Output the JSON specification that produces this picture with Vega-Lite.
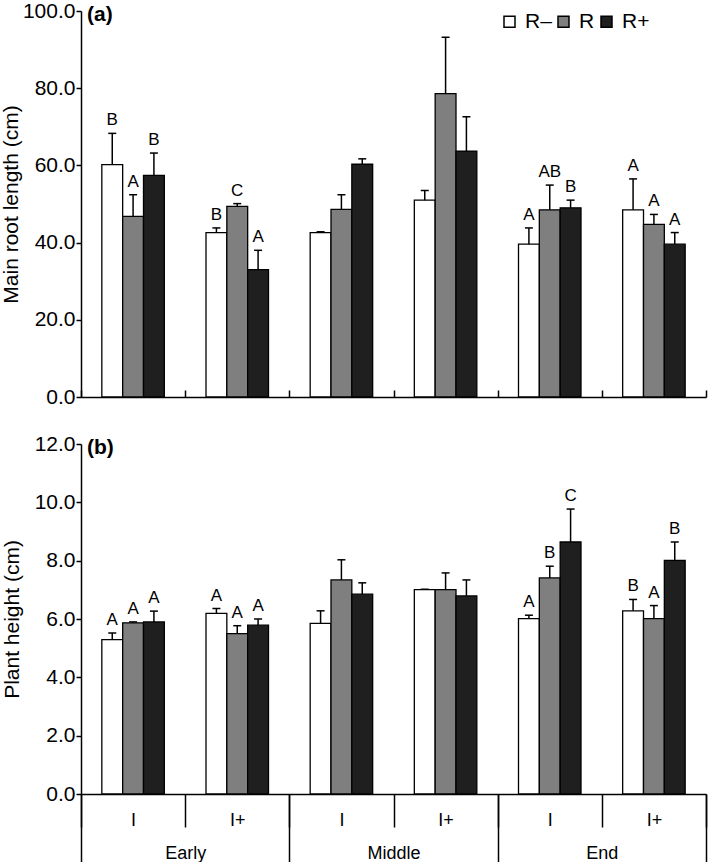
{
  "$schema": "https://vega.github.io/schema/vega-lite/v6.json",
  "background": "white",
  "padding": {"left": 0, "top": 0, "right": 2, "bottom": 0},
  "spacing": 26,
  "datasets": {
    "d": [
      {"stage": "Early", "grp": "Early I", "trt": "R–", "root": 60.2, "rootHi": 68.3, "rootLab": "B", "ht": 5.29, "htHi": 5.52, "htLab": "A"},
      {"stage": "Early", "grp": "Early I", "trt": "R", "root": 46.8, "rootHi": 52.4, "rootLab": "A", "ht": 5.87, "htHi": 5.9, "htLab": "A"},
      {"stage": "Early", "grp": "Early I", "trt": "R+", "root": 57.4, "rootHi": 63.2, "rootLab": "B", "ht": 5.9, "htHi": 6.27, "htLab": "A"},
      {"stage": "Early", "grp": "Early I+", "trt": "R–", "root": 42.6, "rootHi": 43.8, "rootLab": "B", "ht": 6.19, "htHi": 6.36, "htLab": "A"},
      {"stage": "Early", "grp": "Early I+", "trt": "R", "root": 49.4, "rootHi": 50.1, "rootLab": "C", "ht": 5.5, "htHi": 5.77, "htLab": "A"},
      {"stage": "Early", "grp": "Early I+", "trt": "R+", "root": 33.0, "rootHi": 38.0, "rootLab": "A", "ht": 5.79, "htHi": 6.0, "htLab": "A"},
      {"stage": "Middle", "grp": "Middle I", "trt": "R–", "root": 42.6, "rootHi": 42.8, "rootLab": "", "ht": 5.85, "htHi": 6.28, "htLab": ""},
      {"stage": "Middle", "grp": "Middle I", "trt": "R", "root": 48.6, "rootHi": 52.4, "rootLab": "", "ht": 7.34, "htHi": 8.03, "htLab": ""},
      {"stage": "Middle", "grp": "Middle I", "trt": "R+", "root": 60.3, "rootHi": 61.7, "rootLab": "", "ht": 6.85, "htHi": 7.24, "htLab": ""},
      {"stage": "Middle", "grp": "Middle I+", "trt": "R–", "root": 51.0, "rootHi": 53.5, "rootLab": "", "ht": 7.01, "htHi": 7.02, "htLab": ""},
      {"stage": "Middle", "grp": "Middle I+", "trt": "R", "root": 78.6, "rootHi": 93.2, "rootLab": "", "ht": 7.01, "htHi": 7.58, "htLab": ""},
      {"stage": "Middle", "grp": "Middle I+", "trt": "R+", "root": 63.7, "rootHi": 72.6, "rootLab": "", "ht": 6.79, "htHi": 7.34, "htLab": ""},
      {"stage": "End", "grp": "End I", "trt": "R–", "root": 39.6, "rootHi": 43.8, "rootLab": "A", "ht": 6.01, "htHi": 6.13, "htLab": "A"},
      {"stage": "End", "grp": "End I", "trt": "R", "root": 48.5, "rootHi": 54.9, "rootLab": "AB", "ht": 7.41, "htHi": 7.81, "htLab": "B"},
      {"stage": "End", "grp": "End I", "trt": "R+", "root": 49.0, "rootHi": 51.0, "rootLab": "B", "ht": 8.64, "htHi": 9.77, "htLab": "C"},
      {"stage": "End", "grp": "End I+", "trt": "R–", "root": 48.5, "rootHi": 56.5, "rootLab": "A", "ht": 6.28, "htHi": 6.67, "htLab": "B"},
      {"stage": "End", "grp": "End I+", "trt": "R", "root": 44.7, "rootHi": 47.3, "rootLab": "A", "ht": 6.01, "htHi": 6.46, "htLab": "A"},
      {"stage": "End", "grp": "End I+", "trt": "R+", "root": 39.6, "rootHi": 42.6, "rootLab": "A", "ht": 8.01, "htHi": 8.64, "htLab": "B"}
    ]
  },
  "data": {"name": "d"},
  "vconcat": [
    {
      "width": 625,
      "height": 386,
      "title": {"text": "(a)", "anchor": "start", "frame": "group", "fontSize": 21, "fontWeight": "bold", "offset": -25, "dx": 6, "color": "black"},
      "layer": [
        {
          "mark": {"type": "bar", "stroke": "black", "strokeWidth": 1.3},
          "encoding": {
            "x": {"field": "grp", "type": "nominal", "sort": null, "scale": {"paddingInner": 0, "paddingOuter": 0}, "axis": {"title": null, "labels": false, "tickBand": "extent", "tickSize": -7}},
            "xOffset": {"field": "trt", "type": "nominal", "sort": ["R–", "R", "R+"], "scale": {"paddingInner": 0, "paddingOuter": 1.167}},
            "y": {"field": "root", "type": "quantitative", "title": "Main root length (cm)", "scale": {"domain": [0, 100]}, "axis": {"values": [0, 20, 40, 60, 80, 100], "format": ".1f", "tickSize": 5, "labelPadding": 1, "titlePadding": 1}},
            "fill": {"field": "trt", "type": "nominal", "sort": ["R–", "R", "R+"], "scale": {"domain": ["R–", "R", "R+"], "range": ["#ffffff", "#7f7f7f", "#1f1f1f"]},
              "legend": {"orient": "none", "legendX": 418, "legendY": 0, "direction": "horizontal", "title": null, "symbolType": "square", "symbolSize": 121, "symbolStrokeColor": "black", "symbolStrokeWidth": 1.5, "labelFontSize": 21, "labelOffset": 5, "columnPadding": 1, "labelColor": "black", "symbolOpacity": 1}}
          }
        },
        {
          "mark": {"type": "rule", "strokeWidth": 1.5, "color": "black"},
          "encoding": {
            "x": {"field": "grp", "type": "nominal", "sort": null},
            "xOffset": {"field": "trt", "type": "nominal", "sort": ["R–", "R", "R+"]},
            "y": {"field": "root", "type": "quantitative", "title": "Main root length (cm)"},
            "y2": {"field": "rootHi"}
          }
        },
        {
          "mark": {"type": "tick", "size": 8, "thickness": 1.5, "orient": "horizontal", "color": "black", "opacity": 1},
          "encoding": {
            "x": {"field": "grp", "type": "nominal", "sort": null},
            "xOffset": {"field": "trt", "type": "nominal", "sort": ["R–", "R", "R+"]},
            "y": {"field": "rootHi", "type": "quantitative", "title": "Main root length (cm)"}
          }
        },
        {
          "mark": {"type": "text", "dy": -8, "baseline": "alphabetic", "fontSize": 17, "color": "black"},
          "encoding": {
            "x": {"field": "grp", "type": "nominal", "sort": null},
            "xOffset": {"field": "trt", "type": "nominal", "sort": ["R–", "R", "R+"]},
            "y": {"field": "rootHi", "type": "quantitative", "title": "Main root length (cm)"},
            "text": {"field": "rootLab"}
          }
        }
      ]
    },
    {
      "width": 625,
      "height": 350,
      "title": {"text": "(b)", "anchor": "start", "frame": "group", "fontSize": 21, "fontWeight": "bold", "offset": -25, "dx": 6, "color": "black"},
      "layer": [
        {
          "layer": [
            {
              "mark": {"type": "bar", "stroke": "black", "strokeWidth": 1.3},
              "encoding": {
                "x": {"field": "grp", "type": "nominal", "sort": null, "scale": {"paddingInner": 0, "paddingOuter": 0}, "axis": {"title": null, "orient": "bottom", "tickBand": "extent", "tickSize": 33, "labelPadding": -16, "labelFontSize": 18, "labelAngle": 0, "labelExpr": "split(datum.label, ' ')[1]"}},
                "xOffset": {"field": "trt", "type": "nominal", "sort": ["R–", "R", "R+"], "scale": {"paddingInner": 0, "paddingOuter": 1.167}},
                "y": {"field": "ht", "type": "quantitative", "title": "Plant height (cm)", "scale": {"domain": [0, 12]}, "axis": {"values": [0, 2, 4, 6, 8, 10, 12], "format": ".1f", "tickSize": 5, "labelPadding": 1, "titlePadding": 12}},
                "fill": {"field": "trt", "type": "nominal", "sort": ["R–", "R", "R+"], "scale": {"domain": ["R–", "R", "R+"], "range": ["#ffffff", "#7f7f7f", "#1f1f1f"]}, "legend": null}
              }
            },
            {
              "mark": {"type": "rule", "strokeWidth": 1.5, "color": "black"},
              "encoding": {
                "x": {"field": "grp", "type": "nominal", "sort": null},
                "xOffset": {"field": "trt", "type": "nominal", "sort": ["R–", "R", "R+"]},
                "y": {"field": "ht", "type": "quantitative", "title": "Plant height (cm)"},
                "y2": {"field": "htHi"}
              }
            },
            {
              "mark": {"type": "tick", "size": 8, "thickness": 1.5, "orient": "horizontal", "color": "black", "opacity": 1},
              "encoding": {
                "x": {"field": "grp", "type": "nominal", "sort": null},
                "xOffset": {"field": "trt", "type": "nominal", "sort": ["R–", "R", "R+"]},
                "y": {"field": "htHi", "type": "quantitative", "title": "Plant height (cm)"}
              }
            },
            {
              "mark": {"type": "text", "dy": -8, "baseline": "alphabetic", "fontSize": 17, "color": "black"},
              "encoding": {
                "x": {"field": "grp", "type": "nominal", "sort": null},
                "xOffset": {"field": "trt", "type": "nominal", "sort": ["R–", "R", "R+"]},
                "y": {"field": "htHi", "type": "quantitative", "title": "Plant height (cm)"},
                "text": {"field": "htLab"}
              }
            }
          ]
        },
        {
          "mark": {"type": "tick", "opacity": 0},
          "encoding": {
            "x": {"field": "stage", "type": "nominal", "sort": ["Early", "Middle", "End"], "scale": {"paddingInner": 0, "paddingOuter": 0}, "axis": {"title": null, "orient": "bottom", "domain": false, "tickBand": "extent", "tickSize": 68, "labelPadding": -18, "labelFontSize": 18, "labelAngle": 0}},
            "y": {"field": "ht", "type": "quantitative", "title": "Plant height (cm)"}
          }
        }
      ],
      "resolve": {"scale": {"x": "independent"}, "axis": {"x": "independent"}}
    }
  ],
  "config": {
    "font": "Liberation Sans",
    "view": {"stroke": null},
    "axis": {"grid": false, "labelFont": "Liberation Sans", "titleFont": "Liberation Sans", "labelFontSize": 21, "titleFontSize": 21, "titleFontWeight": "normal", "labelColor": "black", "titleColor": "black", "domainColor": "black", "tickColor": "black", "domainWidth": 1.5, "tickWidth": 1.5},
    "legend": {"labelFont": "Liberation Sans"},
    "text": {"font": "Liberation Sans"},
    "title": {"font": "Liberation Sans"}
  }
}
